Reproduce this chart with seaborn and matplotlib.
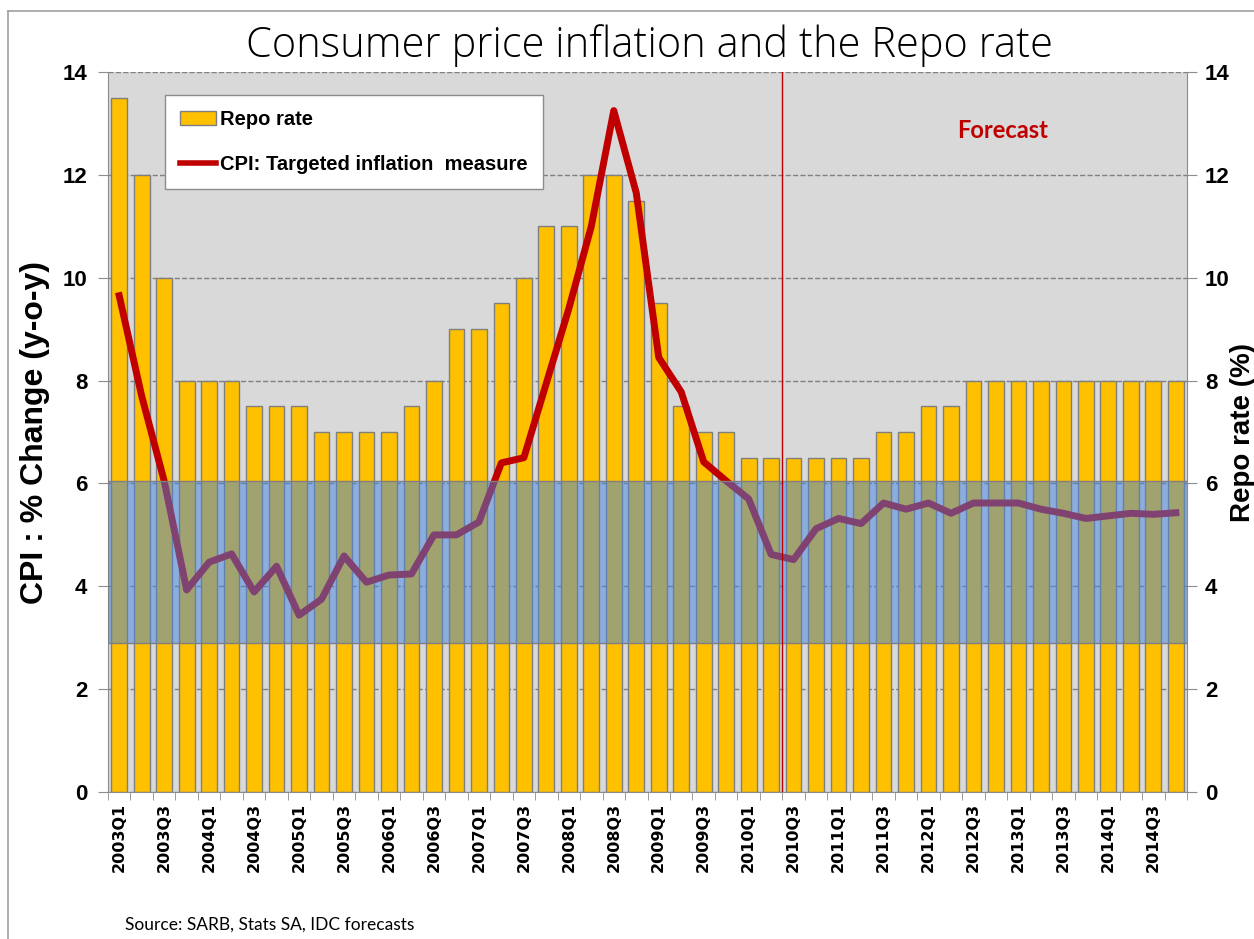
import numpy as np
import pandas as pd
import matplotlib
matplotlib.use("Agg")
import matplotlib.pyplot as plt
from matplotlib.patches import Patch
from matplotlib.lines import Line2D
import seaborn as sns

# =========================
# DATA
# =========================

years = list(range(2003, 2015))
quarters = [f"{y}Q{q}" for y in years for q in range(1, 5)]

repo_rate = [13.5, 12.0, 10.0, 8.0,
             8.0, 8.0, 7.5, 7.5,
             7.5, 7.0, 7.0, 7.0,
             7.0, 7.5, 8.0, 9.0,
             9.0, 9.5, 10.0, 11.0,
             11.0, 12.0, 12.0, 11.5,
             9.5, 7.5, 7.0, 7.0,
             6.5, 6.5, 6.5, 6.5,
             6.5, 6.5, 7.0, 7.0,
             7.5, 7.5, 8.0, 8.0,
             8.0, 8.0, 8.0, 8.0,
             8.0, 8.0, 8.0, 8.0]

cpi = [9.65, 7.7, 6.05, 3.93,
       4.47, 4.63, 3.89, 4.39,
       3.44, 3.75, 4.59, 4.08,
       4.22, 4.24, 5.0, 5.0,
       5.25, 6.4, 6.5, 7.95,
       9.4, 11.0, 13.25, 11.65,
       8.45, 7.78, 6.42, 6.05,
       5.7, 4.62, 4.52, 5.12,
       5.32, 5.22, 5.62, 5.5,
       5.62, 5.42, 5.62, 5.62,
       5.62, 5.5, 5.42, 5.32,
       5.37, 5.42, 5.4, 5.43]

target_low, target_high = 2.9, 6.05
forecast_start = 29.5   # boundary between 2010Q2 and 2010Q3

df = pd.DataFrame({"pos": np.arange(len(quarters)), "quarter": quarters,
                   "repo": repo_rate, "cpi": cpi})

# =========================
# FIGURE
# =========================

plt.rcParams["font.family"] = ["Liberation Sans", "DejaVu Sans"]

fig = plt.figure(figsize=(12.54, 9.39), dpi=100)
ax = fig.add_axes([0.0861, 0.1565, 0.8605, 0.7668])
ax.set_facecolor("#D9D9D9")

sns.barplot(data=df, x="pos", y="repo", native_scale=True, color="#FFC000",
            saturation=1, edgecolor="#7F7F7F", linewidth=1, width=0.7,
            errorbar=None, ax=ax, zorder=2)

sns.lineplot(data=df, x="pos", y="cpi", color="#C00000", linewidth=5,
             ax=ax, zorder=3)

# inflation target band, drawn semi-transparent over bars and line
ax.axhspan(target_low, target_high, facecolor=(0.26, 0.52, 0.88, 0.5),
           edgecolor="#7F7F7F", linewidth=1, zorder=4)

ax.axvline(forecast_start, color="#C00000", linewidth=1, zorder=5)

ax.set_xlim(-0.5, len(quarters) - 0.5)
ax.set_ylim(0, 14)
ax.set_yticks(range(0, 15, 2))
ax.yaxis.grid(True, linestyle="--", color="#808080", linewidth=1)
ax.set_axisbelow(True)

ax.set_xticks(df["pos"][::2], labels=df["quarter"][::2], rotation=90,
              fontsize=11.5, fontweight="bold", family="DejaVu Sans")
ax.set_xticks(np.arange(-0.5, len(quarters), 1), minor=True)
ax.tick_params(axis="x", which="major", length=0, pad=8)
ax.tick_params(axis="x", which="minor", length=6, color="#8C8C8C")
ax.tick_params(axis="y", length=7, color="#8C8C8C", labelsize=16, pad=8)
for t in ax.get_yticklabels():
    t.set_fontweight("bold")

for s in ["left", "bottom"]:
    ax.spines[s].set_color("#8C8C8C")
ax.spines["top"].set_visible(False)
ax.spines["right"].set_visible(False)

ax.set_xlabel("")
ax.set_ylabel("CPI : % Change (y-o-y)", fontsize=23, fontweight="bold",
              labelpad=9)

ax2 = ax.twinx()
ax2.set_ylim(0, 14)
ax2.set_yticks(range(0, 15, 2))
ax2.tick_params(axis="y", length=7, color="#8C8C8C", labelsize=16, pad=6)
for t in ax2.get_yticklabels():
    t.set_fontweight("bold")
for s in ["left", "top", "bottom"]:
    ax2.spines[s].set_visible(False)
ax2.spines["right"].set_color("#8C8C8C")
ax2.set_ylabel("Repo rate (%)", fontsize=20, fontweight="bold", labelpad=0)

# legend
handles = [Patch(facecolor="#FFC000", edgecolor="#7F7F7F", label="Repo rate"),
           Line2D([], [], color="#C00000", linewidth=4,
                  label="CPI: Targeted inflation  measure")]
leg = ax.legend(handles=handles, loc="upper left",
                bbox_to_anchor=(0.0528, 0.968), borderaxespad=0,
                fancybox=False, framealpha=1, edgecolor="#8C8C8C",
                prop={"weight": "bold", "size": 14.5}, handlelength=1.8,
                handletextpad=0.2, labelspacing=1.3, borderpad=0.75)
leg.get_frame().set_linewidth(1)
leg.set_zorder(10)

ax.text(0.8295, 0.919, "Forecast", transform=ax.transAxes, ha="center",
        va="center", color="#C00000", fontsize=17, fontweight="bold",
        family=["Lato", "DejaVu Sans"], zorder=10)

fig.text(0.518, 0.952, "Consumer price inflation and the Repo rate",
         ha="center", va="center", fontsize=30,
         family=["Open Sans", "DejaVu Sans"], fontweight="light")

fig.text(0.0997, 0.0149, "Source: SARB, Stats SA, IDC forecasts",
         ha="left", va="center", fontsize=12.5, family=["Lato", "DejaVu Sans"])

# outer frame (top and left edges visible)
fig.add_artist(Line2D([0.0064, 1.0], [0.988, 0.988], color="#A0A0A0",
                      linewidth=1.2, transform=fig.transFigure))
fig.add_artist(Line2D([0.0064, 0.0064], [0.0, 0.988], color="#A0A0A0",
                      linewidth=1.2, transform=fig.transFigure))

fig.savefig("out.png", dpi=100)
